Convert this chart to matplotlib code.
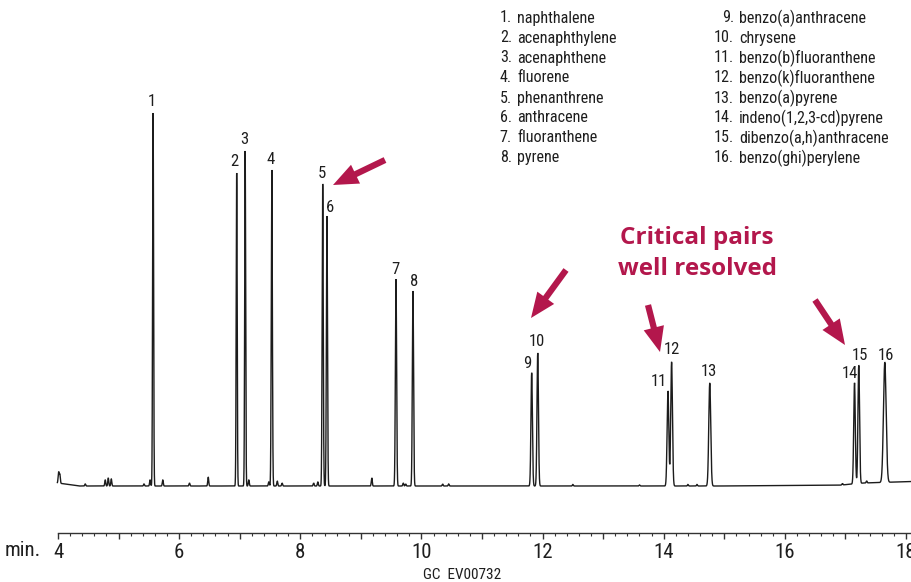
import numpy as np
import matplotlib
matplotlib.use("Agg")
import matplotlib.pyplot as plt
from matplotlib.ticker import FixedLocator, FixedFormatter

# ---------------- data ----------------
peak_numbers = [str(i) for i in range(1, 17)]
peak_times = [5.57, 6.95, 7.09, 7.53, 8.37, 8.44, 9.58, 9.86,
              11.82, 11.92, 14.07, 14.13, 14.76, 17.15, 17.22, 17.65]
peak_heights = [373, 313, 335, 316, 302, 270, 207, 195,
                113, 133, 95, 124, 103, 101, 118, 120]
peak_sigmas = [0.008, 0.008, 0.008, 0.009, 0.009, 0.009, 0.010, 0.010,
               0.012, 0.012, 0.014, 0.014, 0.016, 0.013, 0.013, 0.022]

compounds = ["naphthalene", "acenaphthylene", "acenaphthene", "fluorene",
             "phenanthrene", "anthracene", "fluoranthene", "pyrene",
             "benzo(a)anthracene", "chrysene", "benzo(b)fluoranthene",
             "benzo(k)fluoranthene", "benzo(a)pyrene", "indeno(1,2,3-cd)pyrene",
             "dibenzo(a,h)anthracene", "benzo(ghi)perylene"]

minor_times = [4.01, 4.03, 4.45, 4.78, 4.83, 4.88, 5.42, 5.52, 5.73, 6.17,
               6.48, 7.15, 7.48, 7.62, 7.70, 8.22, 8.29, 9.18, 9.70, 9.74,
               10.35, 10.45, 12.5, 13.6, 14.4, 14.55, 16.95, 17.35]
minor_heights = [11, 9, 2, 6, 8, 7, 2, 6, 6, 3,
                 9, 6, 4, 5, 3, 3, 4, 8, 3, 2,
                 2, 2, 1.5, 1, 1.5, 1.5, 1.5, 2]

baseline_knots_t = [4.0, 4.35, 14.9, 16.9, 17.3, 18.1]
baseline_knots_v = [3.0, 0.0, 0.0, 0.8, 3.0, 4.5]

axis_ticks = [4, 6, 8, 10, 12, 14, 16, 18]

# ---------------- build the trace ----------------
t = np.linspace(3.99, 18.1, 40000)
signal = np.interp(t, baseline_knots_t, baseline_knots_v)
for tm, h, s in zip(peak_times, peak_heights, peak_sigmas):
    signal += h * np.exp(-0.5 * ((t - tm) / s) ** 2)
for tm, h in zip(minor_times, minor_heights):
    signal += h * np.exp(-0.5 * ((t - tm) / 0.008) ** 2)

# ---------------- figure ----------------
W, H, DPI = 911, 582, 100
fig = plt.figure(figsize=(W / DPI, H / DPI), dpi=DPI)
fig.patch.set_facecolor("white")

plt.rcParams["font.family"] = ["Roboto Condensed", "DejaVu Sans"]
txt_col = "#1e1e1e"

px_per_min = 848 / 14.0
x0 = 4 - 58 / px_per_min
x1 = x0 + W / px_per_min
ax = fig.add_axes([0, 1 - 533 / H, 1, 533 / H])
ax.set_xlim(x0, x1)
ax.set_ylim(-47, 486)
ax.patch.set_alpha(0)

ax.plot(t, signal, color="#1c1c1c", lw=1.0, solid_joinstyle="miter")

for sp in ["left", "right", "top"]:
    ax.spines[sp].set_visible(False)
ax.spines["bottom"].set_bounds(4, x1)
ax.spines["bottom"].set_linewidth(1.0)
ax.spines["bottom"].set_color("#333333")
ax.yaxis.set_visible(False)

major = list(range(4, 19))
minor = [4 + 0.2 * k for k in range(0, 71) if k % 5 != 0]
ax.xaxis.set_major_locator(FixedLocator(major))
ax.xaxis.set_major_formatter(FixedFormatter([str(v) if v in axis_ticks else "" for v in major]))
ax.xaxis.set_minor_locator(FixedLocator(minor))
ax.tick_params(axis="x", which="major", direction="out", length=4.5, width=1.0,
               color="#333333", labelsize=15, pad=2.5, labelcolor=txt_col)
ax.tick_params(axis="x", which="minor", direction="out", length=2.5, width=0.8,
               color="#333333")

label_dx = [-1, -2, -1, -1, -1, 3, -1, 1, -4, -1, -9, 0, -1, -5, 1, 1]
label_dy = [11, 11, 11, 11, 11, 9, 10, 10, 10, 11, 9, 12, 12, 11, 13, 10]
for num, tm, h, dx, dy in zip(peak_numbers, peak_times, peak_heights, label_dx, label_dy):
    ax.annotate(num, xy=(tm, h), xytext=(dx * 72 / DPI, dy * 72 / DPI),
                textcoords="offset points", ha="center", va="center",
                fontsize=12, color=txt_col)

for i, name in enumerate(compounds):
    col = i // 8
    row = i % 8
    yy = 1 - (18 + 20 * row) / H
    if col == 0:
        xn, xt = 512 / W, 517 / W
    else:
        xn, xt = 734 / W, 739 / W
    fig.text(xn, yy, f"{i + 1}.", ha="right", va="center", fontsize=11.6, color=txt_col)
    fig.text(xt, yy, name, ha="left", va="center", fontsize=11.6, color=txt_col)

red = "#B3174C"
bold_fam = ["Open Sans", "DejaVu Sans"]
ax.text(14.55, 486 - 238, "Critical pairs", ha="center", va="center",
        fontsize=17.5, fontweight="bold", color=red, family=bold_fam)
ax.text(14.55, 486 - 269, "well resolved", ha="center", va="center",
        fontsize=17.5, fontweight="bold", color=red, family=bold_fam)

def p2d(px, py):
    return (x0 + px / px_per_min, 486 - py)

arrows = [((385, 160), (333, 185)), ((566, 270), (531, 318)),
          ((648, 305), (660, 352)), ((815, 300), (845, 345))]
for tail, tip in arrows:
    ax.annotate("", xy=p2d(*tip), xytext=p2d(*tail),
                arrowprops=dict(arrowstyle="simple,head_length=1.2,head_width=1.0,tail_width=0.3",
                                color=red, lw=0, shrinkA=0, shrinkB=0, mutation_scale=15))

fig.text(5 / W, 1 - 550 / H, "min.", ha="left", va="center", fontsize=15, color=txt_col)
fig.text(462 / W, 1 - 575 / H, "GC  EV00732", ha="center", va="center", fontsize=11, color=txt_col)

fig.savefig("out.png", dpi=DPI, facecolor="white")
